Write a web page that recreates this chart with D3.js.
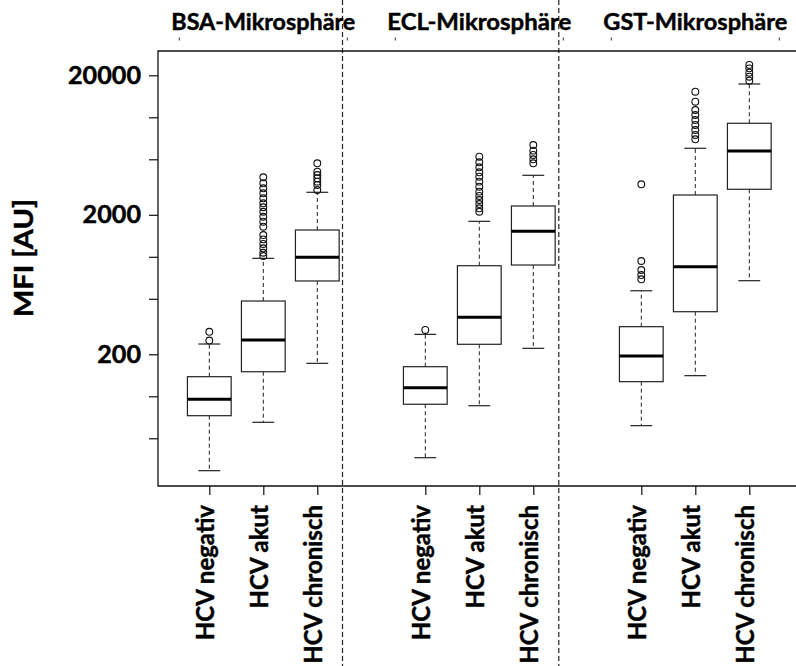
<!DOCTYPE html>
<html>
<head>
<meta charset="utf-8">
<script src="https://cdn.jsdelivr.net/npm/d3@7"></script>
<style>
  html, body { margin: 0; padding: 0; background: #fff; }
  svg { display: block; }
  text { font-family: "Lato", "Open Sans", sans-serif; font-weight: 700; fill: #000; stroke: #000; stroke-width: 0.45px; }
</style>
</head>
<body>
<svg id="chart" width="796" height="666"></svg>
<script>
// Microsphere panels and patient groups
const panels = ["BSA-Mikrosphäre", "ECL-Mikrosphäre", "GST-Mikrosphäre"];
const groups = ["HCV negativ", "HCV akut", "HCV chronisch"];

// Box statistics, one entry per panel × group (BSA, ECL, GST; negativ, akut, chronisch)
const lowerWhisker = [29.3, 65.1, 172.3,   36.3, 85.6, 220.8,   61.6, 140.6, 674];
const q1           = [72.6, 150, 671,      87.7, 236, 873,      127.3, 404, 3048];
const median       = [95.1, 253, 991,      115.3, 368, 1523,    194.4, 849, 5730];
const q3           = [138.2, 482, 1556,    163, 863, 2313,      315.5, 2773, 9060];
const upperWhisker = [237, 975, 2900,      278, 1796, 3839,     571, 5996, 17330];

// Outlying values per box
const outliers = [
  [251, 290],
  [1013, 1069, 1151, 1236, 1334, 1432, 1644, 1785, 1937, 2104, 2265, 2418, 2627, 2853, 3098, 3364, 3715],
  [3013, 3271, 3456, 3655, 3855, 4074, 4678],
  [299],
  [2104, 2226, 2389, 2553, 2729, 2930, 3181, 3456, 3752, 4034, 4379, 4757, 5219],
  [4678, 5000, 5370, 5767, 6330],
  [690, 740, 804, 933, 3310],
  [6955, 7470, 8110, 8810, 9560, 10390, 11280, 12940, 15260],
  [18290, 19550, 20870, 22440, 23720]
];

// Axis ticks
const yTicks = [50, 100, 200, 500, 1000, 2000, 5000, 10000, 20000];
const yTickLabels = { 200: "200", 2000: "2000", 20000: "20000" };

const svg = d3.select("#chart");

const frame = { left: 158, top: 51, bottom: 486, right: 800 };

const y = d3.scaleLog().domain([22.75, 29870]).range([frame.bottom, frame.top]);
// slot index: panel * 4 + group (one empty slot between panels)
const x = d3.scaleLinear().domain([0, 10]).range([209.3, 749.3]);
const slotW = x(1) - x(0);
const boxW = slotW * 0.81;
const capW = boxW / 2;

const boxes = [];
panels.forEach((p, pi) => groups.forEach((g, gi) => {
  const i = pi * 3 + gi;
  boxes.push({
    panel: pi, group: g, slot: pi * 4 + gi,
    lo: lowerWhisker[i], q1: q1[i], med: median[i], q3: q3[i], hi: upperWhisker[i],
    out: outliers[i]
  });
}));

// Panel separators
const seps = [x(2.5) - 1.8, x(6.5) - 1.5];
svg.selectAll("line.sep").data(seps).join("line")
  .attr("class", "sep")
  .attr("x1", d => d).attr("x2", d => d)
  .attr("y1", 0).attr("y2", 666)
  .attr("stroke", "#222").attr("stroke-width", 1.2)
  .attr("stroke-dasharray", "5,3");

// Frame (left, top, bottom)
svg.append("path")
  .attr("d", `M${frame.right},${frame.top}H${frame.left}V${frame.bottom}H${frame.right}`)
  .attr("fill", "none").attr("stroke", "#111").attr("stroke-width", 1.3);

// Y axis
const yAxis = d3.axisLeft(y)
  .tickValues(yTicks)
  .tickFormat(d => yTickLabels[d] || "")
  .tickSize(9).tickPadding(8);
const gy = svg.append("g").attr("transform", `translate(${frame.left},0)`).call(yAxis);
gy.select(".domain").remove();
gy.selectAll(".tick line").attr("stroke", "#111").attr("stroke-width", 1.2);
gy.selectAll(".tick text")
  .attr("font-family", "Lato").attr("font-weight", 700)
  .attr("font-size", 25).attr("fill", "#000")
  .each(function () {
    const s = d3.select(this).text();
    if (s) d3.select(this).attr("textLength", 14.6 * s.length).attr("lengthAdjust", "spacingAndGlyphs");
  });

// X axis (slot ticks with rotated group labels)
const slots = boxes.map(b => b.slot);
const xAxis = d3.axisBottom(x).tickValues(slots).tickFormat("").tickSize(9);
const gx = svg.append("g").attr("transform", `translate(0,${frame.bottom})`).call(xAxis);
gx.select(".domain").remove();
gx.selectAll(".tick line").attr("stroke", "#111").attr("stroke-width", 1.2);

svg.selectAll("text.xlab").data(boxes).join("text")
  .attr("class", "xlab")
  .attr("transform", d => `translate(${x(d.slot) + 5},505) rotate(-90)`)
  .attr("text-anchor", "end")
  .attr("font-size", 24)
  .text(d => d.group);

// Panel headers with small ticks beneath
svg.selectAll("text.head").data(panels).join("text")
  .attr("class", "head")
  .attr("x", (d, i) => x(i * 4 + 1))
  .attr("y", 30)
  .attr("text-anchor", "middle")
  .attr("font-size", 23)
  .attr("textLength", 184)
  .attr("lengthAdjust", "spacingAndGlyphs")
  .text(d => d);

const headTicks = [];
panels.forEach((p, i) => { headTicks.push(x(i * 4 + 1) - 84, x(i * 4 + 1) + 84); });
svg.selectAll("line.htick").data(headTicks).join("line")
  .attr("class", "htick")
  .attr("x1", d => d).attr("x2", d => d)
  .attr("y1", 37.5).attr("y2", 40.5)
  .attr("stroke", "#333").attr("stroke-width", 1);

// Y axis title
svg.append("text")
  .attr("transform", "translate(33,258) rotate(-90)")
  .attr("text-anchor", "middle")
  .attr("font-size", 26)
  .attr("textLength", 118)
  .attr("lengthAdjust", "spacingAndGlyphs")
  .text("MFI [AU]");

// Boxplots
const gb = svg.selectAll("g.box").data(boxes).join("g").attr("class", "box");

// whiskers (dashed)
gb.append("line")
  .attr("x1", d => x(d.slot)).attr("x2", d => x(d.slot))
  .attr("y1", d => y(d.q3)).attr("y2", d => y(d.hi))
  .attr("stroke", "#222").attr("stroke-dasharray", "4,3");
gb.append("line")
  .attr("x1", d => x(d.slot)).attr("x2", d => x(d.slot))
  .attr("y1", d => y(d.q1)).attr("y2", d => y(d.lo))
  .attr("stroke", "#222").attr("stroke-dasharray", "4,3");
// whisker caps
gb.append("line")
  .attr("x1", d => x(d.slot) - capW / 2).attr("x2", d => x(d.slot) + capW / 2)
  .attr("y1", d => y(d.hi)).attr("y2", d => y(d.hi))
  .attr("stroke", "#222").attr("stroke-width", 1.2);
gb.append("line")
  .attr("x1", d => x(d.slot) - capW / 2).attr("x2", d => x(d.slot) + capW / 2)
  .attr("y1", d => y(d.lo)).attr("y2", d => y(d.lo))
  .attr("stroke", "#222").attr("stroke-width", 1.2);
// box
gb.append("rect")
  .attr("x", d => x(d.slot) - boxW / 2)
  .attr("width", boxW)
  .attr("y", d => y(d.q3))
  .attr("height", d => y(d.q1) - y(d.q3))
  .attr("fill", "#fff").attr("stroke", "#222").attr("stroke-width", 1.2);
// median
gb.append("line")
  .attr("x1", d => x(d.slot) - boxW / 2).attr("x2", d => x(d.slot) + boxW / 2)
  .attr("y1", d => y(d.med)).attr("y2", d => y(d.med))
  .attr("stroke", "#000").attr("stroke-width", 3);
// outliers
gb.selectAll("circle").data(d => d.out.map(v => ({ v, slot: d.slot }))).join("circle")
  .attr("cx", d => x(d.slot)).attr("cy", d => y(d.v))
  .attr("r", 3.4)
  .attr("fill", "none").attr("stroke", "#111").attr("stroke-width", 1.1);
</script>
</body>
</html>
